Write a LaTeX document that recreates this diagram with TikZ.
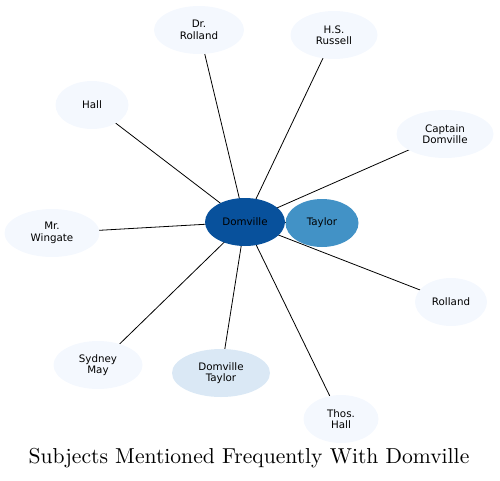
\documentclass[tikz,border=0pt]{standalone}
\usepackage{fontspec}
\newfontfamily\labelfont{DejaVu Sans}
\usetikzlibrary{shapes.geometric,backgrounds}
\definecolor{paleblue}{HTML}{F4F8FE}
\definecolor{softblue}{HTML}{DAE8F5}
\definecolor{midblue}{HTML}{4292C6}
\definecolor{deepblue}{HTML}{08519C}

\begin{document}
\begin{tikzpicture}[x=1pt, y=-1pt,
  subj/.style={ellipse, fill=paleblue, inner sep=0pt, align=center,
    minimum height=48pt, font=\labelfont\fontsize{10.3}{11.5}\selectfont},
  link/.style={line width=0.8pt}]
\useasboundingbox (0,0) rectangle (500,480);
% Nodo central e vizinho
\node[subj, fill=deepblue, minimum width=80pt] (domville) at (245,222) {Domville};
\node[subj, fill=midblue, minimum width=73pt] (taylor) at (322,223) {Taylor};
% Assuntos ao redor
\node[subj, minimum width=90pt] (drrolland) at (199,30) {Dr.\\Rolland};
\node[subj, minimum width=87pt] (russell) at (334,35) {H.S.\\Russell};
\node[subj, minimum width=73pt] (hall) at (92,105) {Hall};
\node[subj, minimum width=97pt] (captain) at (445,134) {Captain\\Domville};
\node[subj, minimum width=95pt] (wingate) at (52,233) {Mr.\\Wingate};
\node[subj, minimum width=72pt] (rolland) at (451,302) {Rolland};
\node[subj, minimum width=89pt] (sydney) at (98,365) {Sydney\\May};
\node[subj, fill=softblue, minimum width=98pt] (domtaylor) at (221,373) {Domville\\Taylor};
\node[subj, minimum width=75pt] (thoshall) at (341,419) {Thos.\\Hall};
% Ligacoes
\begin{scope}[on background layer]
\foreach \n in {taylor,drrolland,russell,hall,captain,wingate,rolland,sydney,domtaylor,thoshall}
  \draw[link] (domville.center) -- (\n.center);
\end{scope}
% Titulo
\node[font=\fontsize{10}{10}\selectfont] (title) at (249,458) {\scalebox{2.16}{Subjects Mentioned Frequently With Domville}};
\end{tikzpicture}
\end{document}
